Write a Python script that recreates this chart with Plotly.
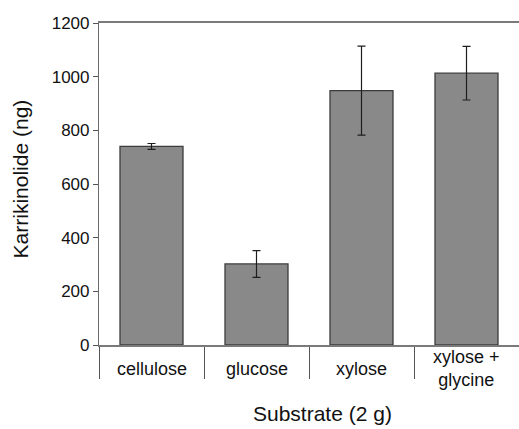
import plotly.graph_objects as go

categories = ["cellulose", "glucose", "xylose", "xylose + glycine"]
tick_labels = ["cellulose", "glucose", "xylose", "xylose +<br>glycine"]
values = [740, 302, 948, 1013]
errors = [11, 50, 166, 100]
y_ticks = [0, 200, 400, 600, 800, 1000, 1200]

FONT = "Liberation Sans, Arial, sans-serif"

fig = go.Figure()
fig.add_trace(go.Bar(
    x=categories, y=values, width=0.6,
    marker=dict(color="#898989", line=dict(color="#3c3c3c", width=1.3)),
    error_y=dict(type="data", array=errors, visible=True,
                 color="#1e1e1e", thickness=1.2, width=4),
    showlegend=False,
))

annotations = []
for c, lab in zip(categories, tick_labels):
    annotations.append(dict(x=c, xref="x", y=-0.073, yref="paper",
                            text=lab, showarrow=False, yanchor="middle",
                            font=dict(family=FONT, size=18, color="#111")))
annotations.append(dict(x=0.531, xref="paper", y=-0.214, yref="paper",
                        text="Substrate (2 g)", showarrow=False, yanchor="middle",
                        font=dict(family=FONT, size=21, color="#111")))
annotations.append(dict(x=-0.186, xref="paper", y=0.517, yref="paper",
                        text="Karrikinolide (ng)", showarrow=False, textangle=-90,
                        xanchor="center", yanchor="middle",
                        font=dict(family=FONT, size=21, color="#111")))

fig.update_layout(
    width=519, height=429,
    margin=dict(l=99, r=0, t=23, b=84),
    paper_bgcolor="white", plot_bgcolor="white",
    annotations=annotations,
    bargap=0.4,
    xaxis=dict(range=[-0.5, 3.5], showticklabels=False, showgrid=False,
               zeroline=False, showline=True, linecolor="#7a7a7a", linewidth=1.5,
               mirror=True, ticks="outside", tickson="boundaries", ticklen=32,
               tickcolor="#555", tickwidth=1.2, automargin=False),
    yaxis=dict(range=[0, 1200], tickvals=y_ticks, showgrid=False, zeroline=False,
               showline=True, linecolor="#6a6a6a", linewidth=1.2, mirror=True,
               ticks="outside", ticklen=5, tickcolor="#555", tickwidth=1.2,
               tickfont=dict(family=FONT, size=17, color="#111"), automargin=False),
)

fig.write_html("out.html")
